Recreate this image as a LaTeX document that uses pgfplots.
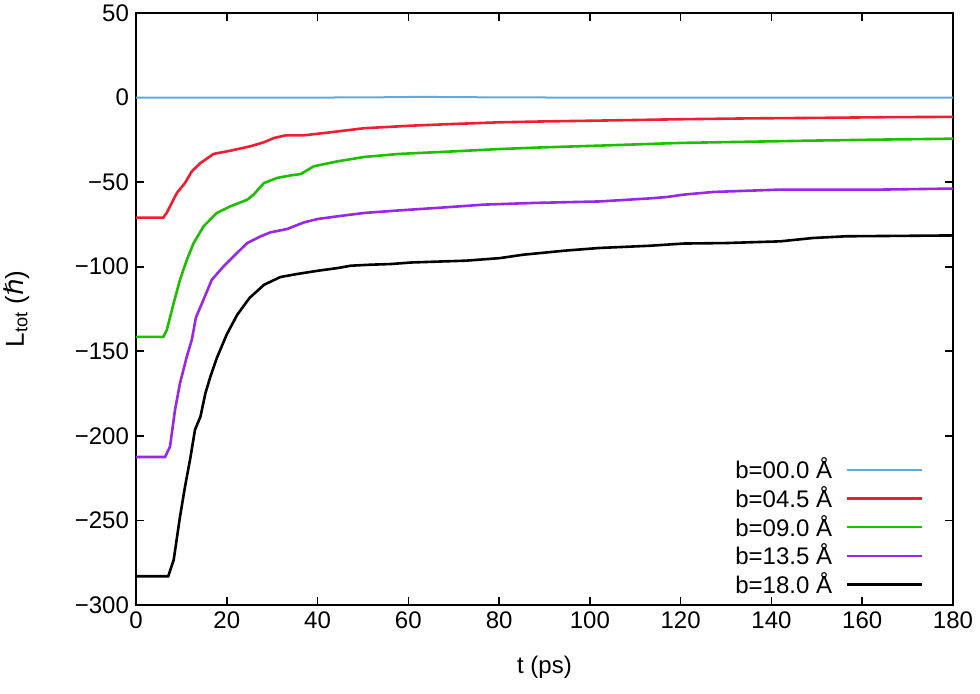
\documentclass[border=0pt]{standalone}
\usepackage{pgfplots}
\pgfplotsset{compat=1.18}
\usepackage{fontspec}
\setmainfont{Liberation Sans}
\newfontfamily\dejavu{DejaVu Sans}

\definecolor{cB}{RGB}{90,170,230}
\definecolor{cR}{RGB}{240,30,50}
\definecolor{cG}{RGB}{30,190,0}
\definecolor{cP}{RGB}{150,40,230}

\begin{document}
\begin{tikzpicture}
\path[use as bounding box] (-68pt,-44pt) rectangle (422pt,302.5pt);
\begin{axis}[
  at={(0,0)}, anchor=south west,
  scale only axis,
  width=408.5pt, height=296pt,
  xmin=0, xmax=180,
  ymin=-300, ymax=50,
  xtick={0,20,...,180},
  xticklabels={0,20,40,60,80,100,120,140,160,180},
  ytick={-300,-250,...,50},
  yticklabels={−300,−250,−200,−150,−100,−50,0,50},
  tick align=inside,
  major tick length=4pt,
  axis line style={line width=0.8pt},
  tick style={line width=0.8pt, black},
  tick label style={font=\fontsize{12}{14}\selectfont},
  label style={font=\fontsize{12}{14}\selectfont},
  xlabel={t (ps)},
  ylabel={L\textsubscript{tot} ({\dejavu ℏ})},
  xlabel shift=6.5pt,
  ylabel shift=16pt,
  ylabel style={font=\fontsize{13}{15}\selectfont},
  legend cell align=right,
  legend plot pos=right,
  legend style={draw=none, fill=none, at={(0.972,0.0)}, anchor=south east,
    font=\fontsize{12}{14}\selectfont, row sep=-1.6pt},
  legend image code/.code={\path (0pt,0pt); \draw[#1] (5pt,0pt) -- (42.5pt,0pt);},
  every axis plot/.append style={line width=1.3pt},
]
\addplot[cB, line width=1.0pt] coordinates {(0,0) (20,0) (40,0) (55,0.2) (62,0.4) (70,0.3) (80,0.1) (100,0) (130,0) (160,0) (180,0)};
\addlegendentry{b=00.0 Å}
\addplot[cR] coordinates {(0,-71) (6,-71) (6.8,-68) (7.5,-64.3) (9,-56.4) (10.8,-50.5) (12.3,-43.6) (14.2,-38.7) (17.1,-33.3) (20.8,-31.4) (25.2,-28.8) (28.2,-26.4) (30.4,-23.9) (33,-22.3) (37,-22.3) (42.9,-20.5) (50.3,-18.1) (58,-17) (60.6,-16.6) (70,-15.6) (80.2,-14.6) (90,-14.1) (102.2,-13.6) (120,-12.8) (135,-12.3) (150,-12) (165,-11.6) (180,-11.4)};
\addlegendentry{b=04.5 Å}
\addplot[cG] coordinates {(0,-141.5) (6,-141.5) (6.8,-137.3) (8.3,-121.5) (9.7,-107.7) (11.2,-95.9) (12.7,-86) (14.9,-76.1) (17.8,-68.2) (20.8,-64.3) (24.5,-60.4) (25.9,-57.4) (28.2,-50.5) (31.1,-47.5) (34.1,-46) (36.3,-45.2) (39.2,-40.6) (44.4,-37.7) (50.3,-35.1) (58,-33.3) (70,-31.8) (80.2,-30.4) (90,-29.4) (102.2,-28.4) (120,-26.8) (135,-26.1) (150,-25.4) (165,-24.8) (180,-24.3)};
\addlegendentry{b=09.0 Å}
\addplot[cP] coordinates {(0,-212.5) (6.4,-212.5) (7.5,-206.3) (8.6,-184.6) (9.7,-168.8) (11.2,-153.1) (12.3,-143.2) (13.2,-130) (14.8,-120) (16.7,-107.7) (19.3,-99.8) (21.5,-93.9) (24.5,-86) (27.4,-82.1) (29.6,-79.7) (33.3,-77.7) (37,-73.8) (40,-71.8) (44.4,-70.2) (50.3,-68.2) (58,-66.7) (69.2,-64.7) (76.5,-63.3) (87.5,-62.3) (102.2,-61.4) (113.2,-59.6) (116.9,-58.8) (120.6,-57.4) (127.2,-55.8) (141.9,-54.4) (163.9,-54.4) (180,-53.8)};
\addlegendentry{b=13.5 Å}
\addplot[black] coordinates {(0,-283) (7.1,-283) (8.3,-273.4) (9.7,-247.7) (10.8,-230) (11.9,-214.2) (13,-196.4) (14.2,-188.6) (15.3,-174.7) (16.4,-164.9) (17.8,-154) (20,-140) (22.3,-128.4) (25,-118.5) (28.2,-110.7) (31.8,-106.1) (35.5,-104.3) (40,-102.4) (44.4,-100.8) (47.3,-99.4) (51.7,-98.8) (56.2,-98.4) (60.6,-97.5) (72.8,-96.4) (80.2,-94.9) (85.3,-92.9) (94.9,-90.4) (102.2,-88.9) (113.2,-87.6) (120.6,-86.3) (130,-86) (141.9,-85) (149.2,-83) (156.5,-82) (171.2,-81.7) (180,-81.5)};
\addlegendentry{b=18.0 Å}
\end{axis}
\end{tikzpicture}
\end{document}
